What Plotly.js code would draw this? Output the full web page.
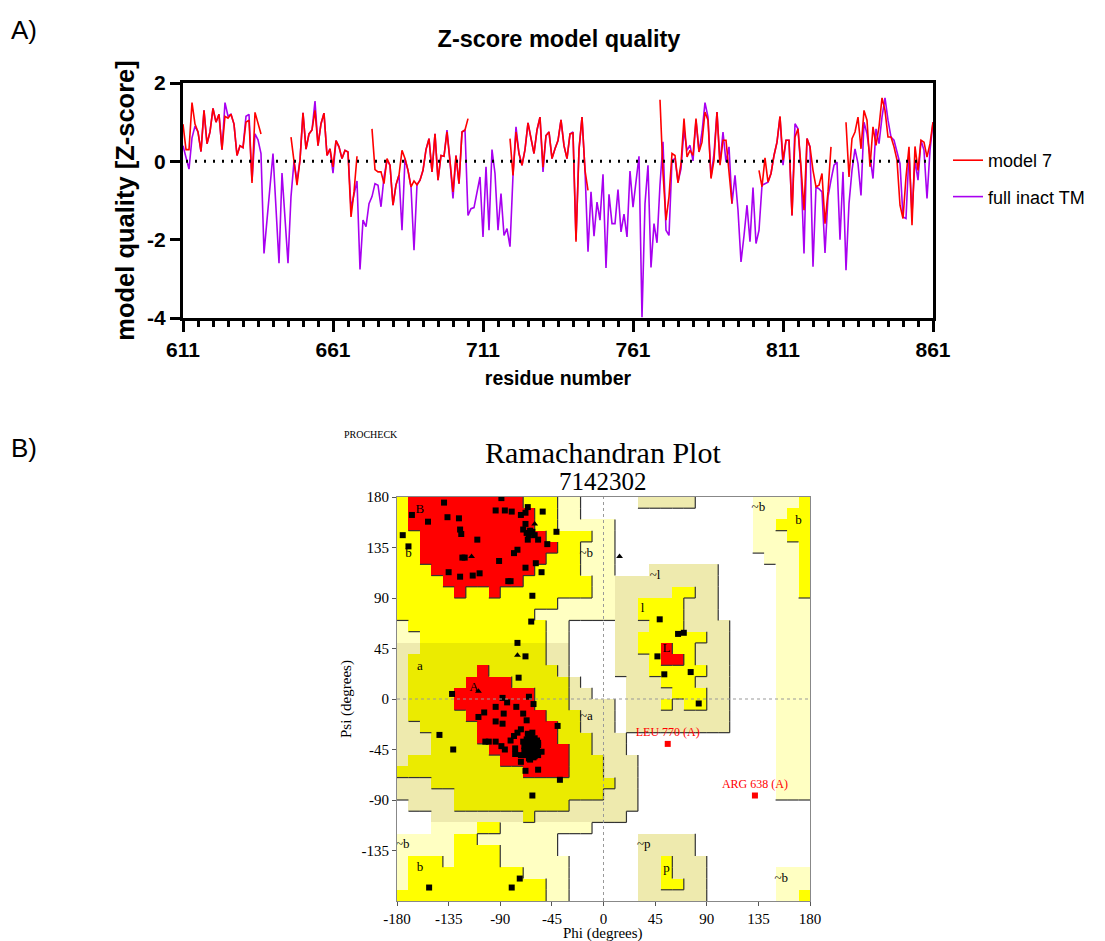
<!DOCTYPE html>
<html><head><meta charset="utf-8">
<script src="https://cdn.plot.ly/plotly-3.0.1.min.js"></script>
<style>html,body{margin:0;padding:0;background:#fff;}#chart{width:1105px;height:941px;}</style>
</head><body><div id="chart"></div>
<script>
// ---------- Panel A data ----------
const firstResidue = 611;
const fullInactTM = [
 0.4,0.1,-0.2,0.6,0.9,0.75,0.25,1.3,0.45,0.75,
 1.35,1.0,1.2,0.3,1.5,1.15,1.2,0.95,0.15,0.4,
 0.35,1.15,1.2,-0.5,0.7,0.55,0.2,-2.35,-1.5,-0.6,
 0.2,-1.2,-2.6,-0.3,-1.4,-2.6,-0.9,0.0,-0.5,0.03,
 1.24,0.31,0.7,0.8,1.54,0.4,0.96,1.23,0.15,0.32,
 -0.3,0.53,0.37,0.07,0.28,0.24,-1.2,-0.8,-0.5,-2.76,
 -1.5,-1.67,-1.08,-0.9,-0.57,-0.61,-1.16,-0.4,0.03,-0.1,
 -1.12,-0.6,-0.35,-1.76,0.07,-0.23,-0.65,-2.27,-0.6,-0.48,
 -0.23,0.3,0.58,-0.27,0.7,-0.48,0.15,0.13,0.8,0.0,
 -0.95,0.15,-0.57,0.75,0.8,-1.38,-1.21,-1.18,-0.78,-0.4,
 -1.93,-0.14,-1.76,0.3,-0.31,-1.76,-0.82,-1.89,-1.72,-2.18,
 -0.36,0.88,0.2,-0.1,0.3,0.98,0.58,0.2,0.8,1.13,
 -0.27,0.66,0.75,0.07,0.32,0.53,1.06,0.4,0.07,0.7,
 0.75,-2.0,0.3,1.13,-0.23,-2.31,-0.78,-1.91,-1.04,-1.5,
 -0.33,-2.72,-0.84,-1.59,-1.59,-0.72,-1.8,-1.35,-1.93,-0.25,
 -1.17,-0.57,0.13,-3.98,-1.08,-0.1,-2.71,-1.59,-2.08,-0.6,
 0.5,-1.76,-1.89,0.03,0.07,-0.53,-0.19,0.81,0.28,0.41,
 0.01,1.05,0.24,0.75,1.5,1.13,-0.4,0.2,1.26,-0.06,
 0.75,-0.02,0.37,-1.08,-0.36,-1.25,-2.57,-1.9,-1.12,-2.05,
 -0.67,-2.1,-1.76,-0.61,-0.57,-0.53,-0.31,0.15,0.49,1.13,
 -0.1,0.54,0.54,-1.38,0.96,0.83,-0.23,-2.35,0.58,0.37,
 -2.69,-0.65,-0.7,-0.78,-2.34,-0.91,-0.48,-0.1,-0.02,-2.0,
 -0.27,-2.78,-1.08,-0.23,0.32,-0.06,-0.87,1.0,0.7,0.15,
 -0.44,0.83,0.45,1.13,1.62,1.05,0.62,0.54,0.24,-0.06,
 -1.42,-1.46,0.24,-1.33,0.03,-0.48,0.54,0.28,-0.95,0.28,
 1.0];
const model7 = [
 0.95,0.3,0.3,1.5,0.95,0.75,0.25,1.3,0.45,0.75,
 1.35,1.0,1.2,0.3,1.15,1.1,1.2,0.95,0.15,0.4,
 0.35,1.0,1.05,-0.55,1.25,0.95,0.7,null,null,null,
 null,null,null,null,null,null,0.62,0.03,-0.61,0.03,
 1.24,0.31,0.7,0.8,1.3,0.4,0.96,1.23,0.15,0.32,
 -0.14,0.53,0.37,0.07,0.28,0.24,-1.42,-0.78,0.13,null,
 null,null,null,0.83,-0.21,-0.27,-0.27,-0.57,0.07,-0.1,
 -1.12,-0.6,-0.35,0.28,0.07,-0.23,-0.65,-0.5,-0.6,-0.48,
 -0.23,0.3,0.58,-0.27,0.7,-0.48,0.15,0.13,0.75,0.0,
 -0.78,0.15,-0.57,0.75,0.8,1.09,null,null,null,null,
 null,null,null,null,null,null,null,null,null,0.58,
 -0.36,0.75,0.2,-0.1,0.3,0.98,0.58,0.2,0.8,1.13,
 -0.15,0.66,0.75,0.07,0.32,0.53,1.06,0.4,0.07,0.7,
 0.72,-2.05,0.3,1.13,-0.23,-0.74,null,null,null,null,
 null,null,null,null,null,null,null,null,null,null,
 null,null,null,null,null,null,null,null,null,1.57,
 -0.3,-1.5,-0.9,0.2,0.15,-0.55,-0.06,1.09,0.11,0.28,
 0.15,1.09,0.24,0.49,1.26,1.05,-0.44,0.03,1.26,-0.1,
 0.54,0.54,-0.23,-1.08,null,null,null,null,null,null,
 null,null,-0.23,-0.65,0.09,-0.53,-0.31,0.15,0.49,1.15,
 0.03,0.54,0.54,-1.38,0.62,0.83,-0.14,-1.25,0.58,0.37,
 -0.23,-0.65,-0.61,-0.31,-1.59,-0.78,0.37,null,null,null,
 null,1.0,-0.4,0.58,0.75,1.13,0.32,1.3,1.05,-0.14,
 0.88,0.41,0.88,1.62,1.3,0.62,0.62,0.37,0.03,-1.12,
 -1.46,-0.4,0.37,-1.63,0.38,-0.23,0.54,0.49,0.11,0.45,
 1.0];
const residues = fullInactTM.map((_, i) => firstResidue + i);
const xTickVals = [611, 661, 711, 761, 811, 861];
const yTickVals = [-4, -2, 0, 2];

// ---------- Panel B data ----------
// Region grid: rows psi 180->-180 (10 deg), cols phi -180->180 (10 deg)
// . disallowed, P generous (beta), K generous (alpha), y allowed (alpha), Y allowed, R most favoured
const regionRows = [
 "YRRRRRRRRRRYYYPP.....KKKKK.....PPPPY",
 "YRRRRRRRRRRRYYPP...............PPPYY",
 "YRRRRRRRRRRRYYPPPPP............PPYYY",
 "YYRRRRRRRRRRRYYYYPP............PPPYY",
 "YYRRRRRRRRRRRRYYPPP............PPPPY",
 "YYRRRRRRRRRRRYYYPPP.............PPPY",
 "YYYRRRRRRRRRYYYYPPP...KKKKKK.....PPY",
 "YYYYRRRRRRRYYYYYYPPKKKKKKKKK.....PPY",
 "YYYYYRYYRYYYYYYYYPPKKKKKYYKK.....PPY",
 "YYYYYYYYYYYYYYPPPPPKKYYYYKKK.....PPP",
 "YYYYYYYYYYYYPPPPPPPKKYYYYKKK.....PPP",
 "PYYYYYYYYYYYYPP....KKKYYYKKKK....PPP",
 "PPYYYYYYYYYYYPP....KKYYYYYYKK....PPP",
 "KKyyyyyyyyyyyKK....KKYYRYYKKK....PPP",
 "KyyyyyyyyyyyyKK....KKKYRRYKKK....PPP",
 "KyyyyyyRyyyyyyK....KKKYYYYYKK....PPP",
 "KyyyyyRRRRyyyyyK....KKKYYYKKK....PPP",
 "KyyyyRRRRRRRyyyKK...KKKKYYYKK....PPP",
 "KyyyyRRRRRRRyyyKKKK.KKKYKYYKK....PPP",
 "KyyyyyRRRRRRRyyyKKK.KKKKKKKKK....PPP",
 "KKyyyyyRRRRRRRyyKKK.KKKKKKKKK....PPP",
 "KKKyyyyRRRRRRRyyyKKK.............PPP",
 "KKKyyyyyRRRRRRRyyKKK.............PPP",
 "KyyyyyyyyRRRRRRyyyKKK............PPP",
 "yyyyyyyyyyyRRRRyyyKKK............PPP",
 "KKKyyyyyyyyyyyyyyyyKK............PPP",
 "KKKKKyyyyyyyyyyyyyKKK............PPP",
 ".KKKKyyyyyyyyyyKKKKKK...............",
 "...KKKKKKKKyKKKKKKKK................",
 "...PPPPYYPPPPPPPP...................",
 "PPPPPYYPPPPPPP.......KKKKK..........",
 "PPPPPYYYYPPPPP.......KKKKK..........",
 "PYYYPYYYYPPPPPP......KKYKKK.........",
 "PYYYYYYYYYYPPPP......KKYKKK......PPP",
 "PYYYYYYYYYYYYPP......KKYYKK......PPP",
 "YYYYYYYYYYYYYPP......KKKKKK......PPY"];
const regionCodes = {'.':0,'P':1,'K':2,'y':3,'Y':4,'R':5};
const regionLevel = {'.':0,'P':1,'K':1,'y':2,'Y':2,'R':3};
const regionColors = ['#FFFFFF','#FFFFC2','#EEEAAE','#EBEB00','#FFFF00','#FF0000'];

const resPhi = [-89,-139,-167,-153,-136,-126,-125,-124,-110,-175,-170,-94,-86,-80,-72,-68,-66,-53,-68,-70,-65,-62,-66,-57,-49,-41,-123,-121,-91,-75,-78,-59,-68,-135,-125,-114,-108,-83,-81,-54,-62,-63,-75,-68,-74,-64,-67,-60,
 -132,-88,-65,-84,-76,-61,-94,-104,-109,-87,-70,-94,-88,-67,-143,-131,-40,-103,-100,-94,-89,-86,-81,-78,-77,-75,-72,-72,-77,-72,-68,-57,-38,-62,-54,-57,-57,
 -64,-62,-66,-60,-63,-67,-61,-65,-59,-68,-63,-62,-66,-60,-64,-58,-69,-61,-65,-63,-67,-62,-64,-60,-66,-70,-59,-63,-65,-61,-64,-68,-57,-62,-66,-63,-60,-67,-64,-61,-65,-62,-64,-63,-59,-66,-69,-58,-60,-65,
 -152,-80,-73, 49,65,70,47,53,76,83];
const resPsi = [179,175,164,158,162,161,151,147,142,146,136,168,168,167,164,166,171,167,156,151,146,149,142,142,138,149,126,126,123,133,130,121,117,113,109,110,112,105,105,113,92,69,50,38,19,150,148,146,
 4.5,1,2,-3,-7,-4.5,-7,-12,-16,-13,-13,-20,-22,-19,-32,-45,-24,-38,-38,-38,-42,-45,-37,-33,-44,-30,-27,-50,-49,-56,-64,-63,-72,-86,-47,-50,-39,
 -39,-41,-37,-43,-45,-42,-36,-47,-38,-39,-33,-48,-44,-40,-50,-45,-46,-52,-35,-42,-40,-38,-44,-47,-31,-38,-42,-37,-41,-44,-54,-50,-41,-30,-48,-40,-35,-36,-46,-40,-43,-43,-36,-48,-49,-39,-42,-37,-51,-53,
 -168,-168,-160, 71,58,59,38,22,24,-4];
const glyPhi = [-60,-115,-75,-109,14];
const glyPsi = [156,127,39,7,127];
const outlierPhi = [56,132];
const outlierPsi = [-40,-86];
const outlierNames = ['LEU 770 (A)','ARG 638 (A)'];
const labelText = ['B','b','a','A','~b','~a','~l','l','L','~b','b','~b','b','~p','p','~b'];
const labelPhi = [-160,-170,-160,-113,-15,-15,45,34,55,135,170,-175,-160,35,55,155];
const labelPsi = [169,129,29,10,129,-16,110,80,45,170,159,-130,-150,-130,-151,-160];
const ramaTicks = [-180,-135,-90,-45,0,45,90,135,180];
const ramaYTicks = [-135,-90,-45,0,45,90,135,180];

// ---------- build ----------
const W = 1105, H = 941;
const px = v => v / W, py = v => 1 - v / H;
const SANS = 'Liberation Sans, Arial, sans-serif';
const SERIF = 'Liberation Serif, Times New Roman, serif';

const z = regionRows.map(row => row.split('').map(ch => regionCodes[ch]));
const phiCenters = regionRows[0].split('').map((_, c) => -175 + 10 * c);
const psiCenters = regionRows.map((_, r) => 175 - 10 * r);
const cs = [];
regionColors.forEach((col, k) => { cs.push([k / 6, col]); cs.push([(k + 1) / 6, col]); });

const bx = [], by = [];
const lv = (r, c) => regionLevel[regionRows[r][c]];
for (let r = 0; r < regionRows.length; r++) {
  for (let c = 0; c < regionRows[r].length; c++) {
    const L = lv(r, c);
    if (c < 35 && L > lv(r, c + 1)) {
      const x = -180 + 10 * (c + 1);
      bx.push(x, x, null); by.push(180 - 10 * r, 170 - 10 * r, null);
    }
    if (r < 35 && L > lv(r + 1, c)) {
      const y = 170 - 10 * r;
      bx.push(-180 + 10 * c, -170 + 10 * c, null); by.push(y, y, null);
    }
  }
}

const traces = [
  {type:'scatter', mode:'lines', x:residues, y:fullInactTM, name:'full inact TM',
   line:{color:'#A800F0', width:1.6}, xaxis:'x', yaxis:'y', legendrank:2, legendgroup:'g2'},
  {type:'scatter', mode:'lines', x:residues, y:model7, name:'model 7', connectgaps:false,
   line:{color:'#FF0000', width:1.6}, xaxis:'x', yaxis:'y', legendrank:1, legendgroup:'g1'},
  {type:'heatmap', x:phiCenters, y:psiCenters, z:z, colorscale:cs, zmin:-0.5, zmax:5.5,
   showscale:false, hoverinfo:'skip', xaxis:'x2', yaxis:'y2', showlegend:false},
  {type:'scatter', mode:'lines', x:bx, y:by, line:{color:'#333', width:1.2}, hoverinfo:'skip',
   xaxis:'x2', yaxis:'y2', showlegend:false},
  {type:'scatter', mode:'text', x:labelPhi, y:labelPsi, text:labelText,
   textfont:{family:SERIF, size:13, color:'#000'}, xaxis:'x2', yaxis:'y2', showlegend:false, hoverinfo:'skip'},
  {type:'scatter', mode:'markers', x:resPhi, y:resPsi, marker:{symbol:'square', size:6, color:'#000'},
   xaxis:'x2', yaxis:'y2', showlegend:false},
  {type:'scatter', mode:'markers', x:glyPhi, y:glyPsi, marker:{symbol:'triangle-up', size:6, color:'#000'},
   xaxis:'x2', yaxis:'y2', showlegend:false},
  {type:'scatter', mode:'markers+text', x:outlierPhi, y:outlierPsi, text:outlierNames, textposition:'top center',
   textfont:{family:SERIF, size:12, color:'#FF0000'}, marker:{symbol:'square', size:6, color:'#FF0000'},
   xaxis:'x2', yaxis:'y2', showlegend:false}
];

const layout = {
  width: W, height: H, margin:{l:0,r:0,t:0,b:0}, paper_bgcolor:'#fff', plot_bgcolor:'#fff',
  font:{family:SANS, color:'#000'},
  title:{text:'Z-score model quality', x:px(559), y:py(39), xref:'paper', yref:'paper', xanchor:'center', yanchor:'middle',
    font:{family:SANS, size:23.5, weight:'bold', color:'#000'}},
  showlegend:true,
  legend:{x:px(948), y:py(142), xanchor:'left', yanchor:'top', font:{family:SANS, size:18, color:'#000'},
    traceorder:'grouped', tracegroupgap:10, bgcolor:'rgba(0,0,0,0)'},
  xaxis:{domain:[px(183), px(933)], anchor:'y', range:[611, 861], tickmode:'array', tickvals:xTickVals,
    ticktext:xTickVals.map(String), ticks:'outside', ticklen:11, tickwidth:3, tickcolor:'#000',
    showline:true, linewidth:3, linecolor:'#000', mirror:true, showgrid:false, zeroline:false,
    tickfont:{family:SANS, size:21, weight:'bold', color:'#000'},
    minor:{tick0:611, dtick:5, ticks:'outside', ticklen:6, tickwidth:3, tickcolor:'#000', showgrid:false},
    title:{text:'residue number', standoff:12, font:{family:SANS, size:19.5, weight:'bold', color:'#000'}}},
  yaxis:{domain:[py(318), py(83)], anchor:'x', range:[-4, 2], tickmode:'array', tickvals:yTickVals,
    ticktext:yTickVals.map(String), ticks:'outside', ticklen:10, tickwidth:3, tickcolor:'#000',
    showline:true, linewidth:3, linecolor:'#000', mirror:true, showgrid:false, zeroline:false,
    tickfont:{family:SANS, size:21, weight:'bold', color:'#000'},
    title:{text:'model quality [Z-score]', standoff:6, font:{family:SANS, size:25.5, weight:'bold', color:'#000'}}},
  xaxis2:{domain:[px(397), px(810)], anchor:'y2', range:[-180, 180], tickmode:'array', tickvals:ramaTicks,
    ticktext:ramaTicks.map(String), ticks:'outside', ticklen:4, tickcolor:'#555', showline:true, linewidth:1,
    linecolor:'#888', mirror:true, showgrid:false, zeroline:false,
    tickfont:{family:SERIF, size:15, color:'#000'}},
  yaxis2:{domain:[py(901), py(497)], anchor:'x2', range:[-180, 180], tickmode:'array', tickvals:ramaYTicks,
    ticktext:ramaYTicks.map(String), ticks:'outside', ticklen:4, tickcolor:'#555', showline:true, linewidth:1,
    linecolor:'#888', mirror:true, showgrid:false, zeroline:false,
    tickfont:{family:SERIF, size:15, color:'#000'}},
  shapes:[
    {type:'line', xref:'x', yref:'y', x0:612, x1:860, y0:0, y1:0, line:{color:'#000', width:3, dash:'2px,7px'}},
    {type:'line', xref:'x2', yref:'y2', x0:0, x1:0, y0:-180, y1:180, line:{color:'#999', width:1, dash:'dot'}},
    {type:'line', xref:'x2', yref:'y2', x0:-180, x1:180, y0:0, y1:0, line:{color:'#999', width:1, dash:'dot'}}
  ],
  annotations:[
    {text:'A)', xref:'paper', yref:'paper', x:px(9), y:py(30), xanchor:'left', yanchor:'middle', showarrow:false,
     font:{family:SANS, size:26, color:'#000'}},
    {text:'B)', xref:'paper', yref:'paper', x:px(9), y:py(448), xanchor:'left', yanchor:'middle', showarrow:false,
     font:{family:SANS, size:26, color:'#000'}},
    {text:'PROCHECK', xref:'paper', yref:'paper', x:px(342), y:py(434), xanchor:'left', yanchor:'middle', showarrow:false,
     font:{family:SERIF, size:10, color:'#000'}},
    {text:'Ramachandran Plot', xref:'paper', yref:'paper', x:px(603), y:py(452), xanchor:'center', yanchor:'middle', showarrow:false,
     font:{family:SERIF, size:30, color:'#000'}},
    {text:'7142302', xref:'paper', yref:'paper', x:px(603), y:py(481), xanchor:'center', yanchor:'middle', showarrow:false,
     font:{family:SERIF, size:25, color:'#000'}},
    {text:'Phi (degrees)', xref:'paper', yref:'paper', x:px(603), y:py(933), xanchor:'center', yanchor:'middle', showarrow:false,
     font:{family:SERIF, size:15, color:'#000'}},
    {text:'Psi (degrees)', xref:'paper', yref:'paper', x:px(346), y:py(699), xanchor:'center', yanchor:'middle', showarrow:false,
     textangle:-90, font:{family:SERIF, size:15, color:'#000'}}
  ]
};

Plotly.newPlot('chart', traces, layout, {staticPlot:true, displayModeBar:false});
</script></body></html>
